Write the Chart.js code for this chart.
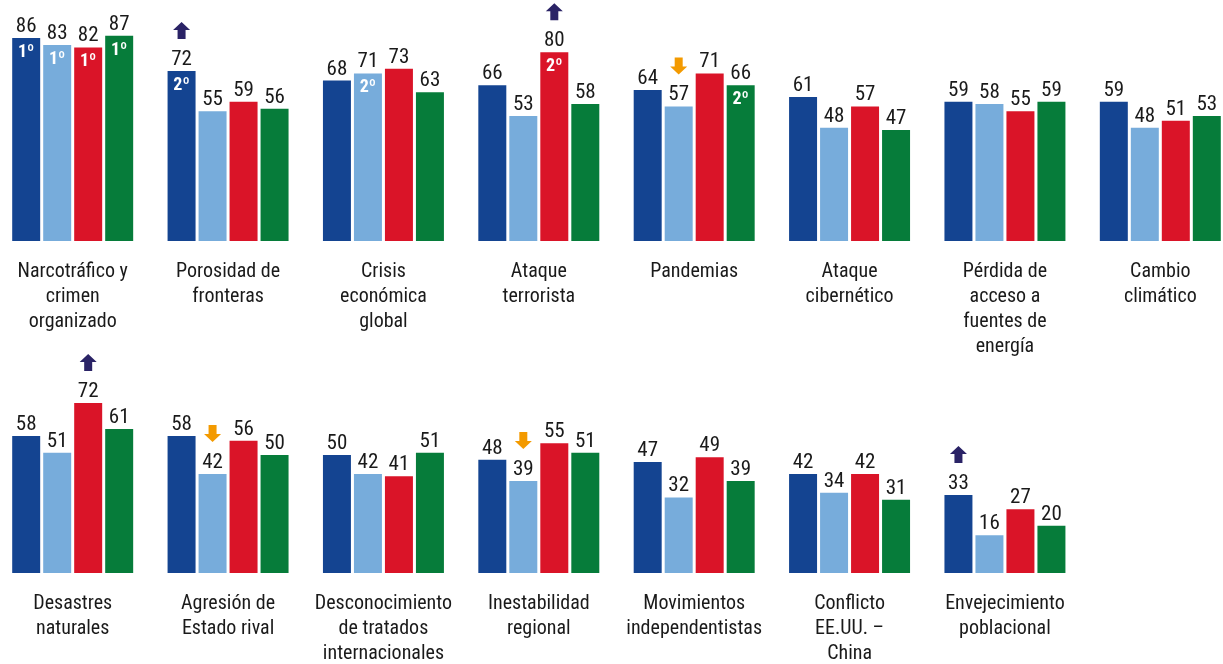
<!DOCTYPE html>
<html>
<head>
<meta charset="utf-8">
<script src="https://cdn.jsdelivr.net/npm/chart.js@4.4.1/dist/chart.umd.min.js"></script>
<style>
  html, body { margin: 0; padding: 0; background: #ffffff; overflow: hidden; }
  body { width: 1223px; height: 664px; position: relative; }
  canvas { position: absolute; }
  #c1 { left: -5px; top: 0px; }
  #c2 { left: -5px; top: 332px; }
</style>
</head>
<body>
<canvas id="c1" width="1243" height="364"></canvas>
<canvas id="c2" width="1243" height="332"></canvas>
<script>
// ---------- DATA ----------
const seriesNames = ["Serie 1", "Serie 2", "Serie 3", "Serie 4"];

const categoriesRow1 = [
  ["Narcotráfico y", "crimen", "organizado"],
  ["Porosidad de", "fronteras"],
  ["Crisis", "económica", "global"],
  ["Ataque", "terrorista"],
  ["Pandemias"],
  ["Ataque", "cibernético"],
  ["Pérdida de", "acceso a", "fuentes de", "energía"],
  ["Cambio", "climático"]
];
const serie1Row1 = [86, 72, 68, 66, 64, 61, 59, 59];
const serie2Row1 = [83, 55, 71, 53, 57, 48, 58, 48];
const serie3Row1 = [82, 59, 73, 80, 71, 57, 55, 51];
const serie4Row1 = [87, 56, 63, 58, 66, 47, 59, 53];
// rank labels shown inside bars: [categoryIndex, seriesIndex, text]
const ranksRow1 = [[0,0,"1º"],[0,1,"1º"],[0,2,"1º"],[0,3,"1º"],[1,0,"2º"],[2,1,"2º"],[3,2,"2º"],[4,3,"2º"]];
// arrows: [categoryIndex, seriesIndex, direction]
const arrowsRow1 = [[1,0,"up"],[3,2,"up"],[4,1,"down"]];

const categoriesRow2 = [
  ["Desastres", "naturales"],
  ["Agresión de", "Estado rival"],
  ["Desconocimiento", "de tratados", "internacionales"],
  ["Inestabilidad", "regional"],
  ["Movimientos", "independentistas"],
  ["Conflicto", "EE.UU. –", "China"],
  ["Envejecimiento", "poblacional"],
  [""]
];
const serie1Row2 = [58, 58, 50, 48, 47, 42, 33, null];
const serie2Row2 = [51, 42, 42, 39, 32, 34, 16, null];
const serie3Row2 = [72, 56, 41, 55, 49, 42, 27, null];
const serie4Row2 = [61, 50, 51, 51, 39, 31, 20, null];
const ranksRow2 = [];
const arrowsRow2 = [[0,2,"up"],[1,1,"down"],[3,1,"down"],[6,0,"up"]];

// ---------- STYLE ----------
const colors = ["#144491", "#77acdb", "#da1428", "#067c3a"];
const FONT = "'Roboto Condensed', 'Liberation Sans', Arial, sans-serif";
const arrowColors = { up: "#2a2366", down: "#f39a00" };

const labelPlugin = {
  id: 'barLabels',
  afterDatasetsDraw(chart, args, opts) {
    const ctx = chart.ctx;
    ctx.save();
    chart.data.datasets.forEach((ds, di) => {
      const meta = chart.getDatasetMeta(di);
      meta.data.forEach((bar, i) => {
        const v = ds.data[i];
        if (v === null || v === undefined) return;
        ctx.font = "21px " + FONT;
        ctx.fillStyle = "#1a1a1a";
        ctx.textAlign = "center";
        ctx.textBaseline = "alphabetic";
        ctx.fillText(String(v), bar.x, bar.y - 6);
      });
    });
    (opts.ranks || []).forEach(([ci, si, txt]) => {
      const bar = chart.getDatasetMeta(si).data[ci];
      ctx.font = "bold 18px " + FONT;
      ctx.fillStyle = "#ffffff";
      ctx.textAlign = "center";
      ctx.textBaseline = "alphabetic";
      ctx.fillText(txt, bar.x, bar.y + 19);
    });
    (opts.arrows || []).forEach(([ci, si, dir]) => {
      const bar = chart.getDatasetMeta(si).data[ci];
      const bottom = bar.y - 32;
      const top = bottom - 17;
      const cx = bar.x;
      const hw = 8.5, sw = 4, hh = 8;
      ctx.fillStyle = arrowColors[dir];
      ctx.beginPath();
      if (dir === "up") {
        ctx.moveTo(cx, top);
        ctx.lineTo(cx + hw, top + hh);
        ctx.lineTo(cx + sw, top + hh);
        ctx.lineTo(cx + sw, bottom);
        ctx.lineTo(cx - sw, bottom);
        ctx.lineTo(cx - sw, top + hh);
        ctx.lineTo(cx - hw, top + hh);
      } else {
        ctx.moveTo(cx - sw, top);
        ctx.lineTo(cx + sw, top);
        ctx.lineTo(cx + sw, bottom - hh);
        ctx.lineTo(cx + hw, bottom - hh);
        ctx.lineTo(cx, bottom);
        ctx.lineTo(cx - hw, bottom - hh);
        ctx.lineTo(cx - sw, bottom - hh);
      }
      ctx.closePath();
      ctx.fill();
    });
    ctx.restore();
  }
};

function makeChart(id, categories, seriesList, ranks, arrows, axisHeight) {
  return new Chart(document.getElementById(id), {
    type: 'bar',
    data: {
      labels: categories,
      datasets: seriesList.map((d, i) => ({
        label: seriesNames[i],
        data: d,
        backgroundColor: colors[i],
        borderWidth: 0,
        categoryPercentage: 0.798,
        barPercentage: 0.903
      }))
    },
    options: {
      responsive: false,
      animation: false,
      layout: { padding: { top: 5, left: 0, right: 0, bottom: 0 } },
      plugins: {
        legend: { display: false },
        tooltip: { enabled: false },
        barLabels: { ranks: ranks, arrows: arrows }
      },
      scales: {
        y: { display: false, min: 0, max: 100 },
        x: {
          grid: { display: false, drawTicks: false },
          border: { display: false },
          ticks: {
            color: "#1a1a1a",
            font: { family: FONT, size: 20, lineHeight: '25px' },
            padding: 18,
            maxRotation: 0,
            autoSkip: false
          },
          afterFit(scale) { scale.height = axisHeight; }
        }
      }
    },
    plugins: [labelPlugin]
  });
}

function build() {
  makeChart('c1', categoriesRow1, [serie1Row1, serie2Row1, serie3Row1, serie4Row1], ranksRow1, arrowsRow1, 123);
  makeChart('c2', categoriesRow2, [serie1Row2, serie2Row2, serie3Row2, serie4Row2], ranksRow2, arrowsRow2, 91);
}
if (document.fonts && document.fonts.load) {
  Promise.all([
    document.fonts.load("20px 'Roboto Condensed'"),
    document.fonts.load("bold 18px 'Roboto Condensed'")
  ]).then(build, build);
} else {
  build();
}
</script>
</body>
</html>
